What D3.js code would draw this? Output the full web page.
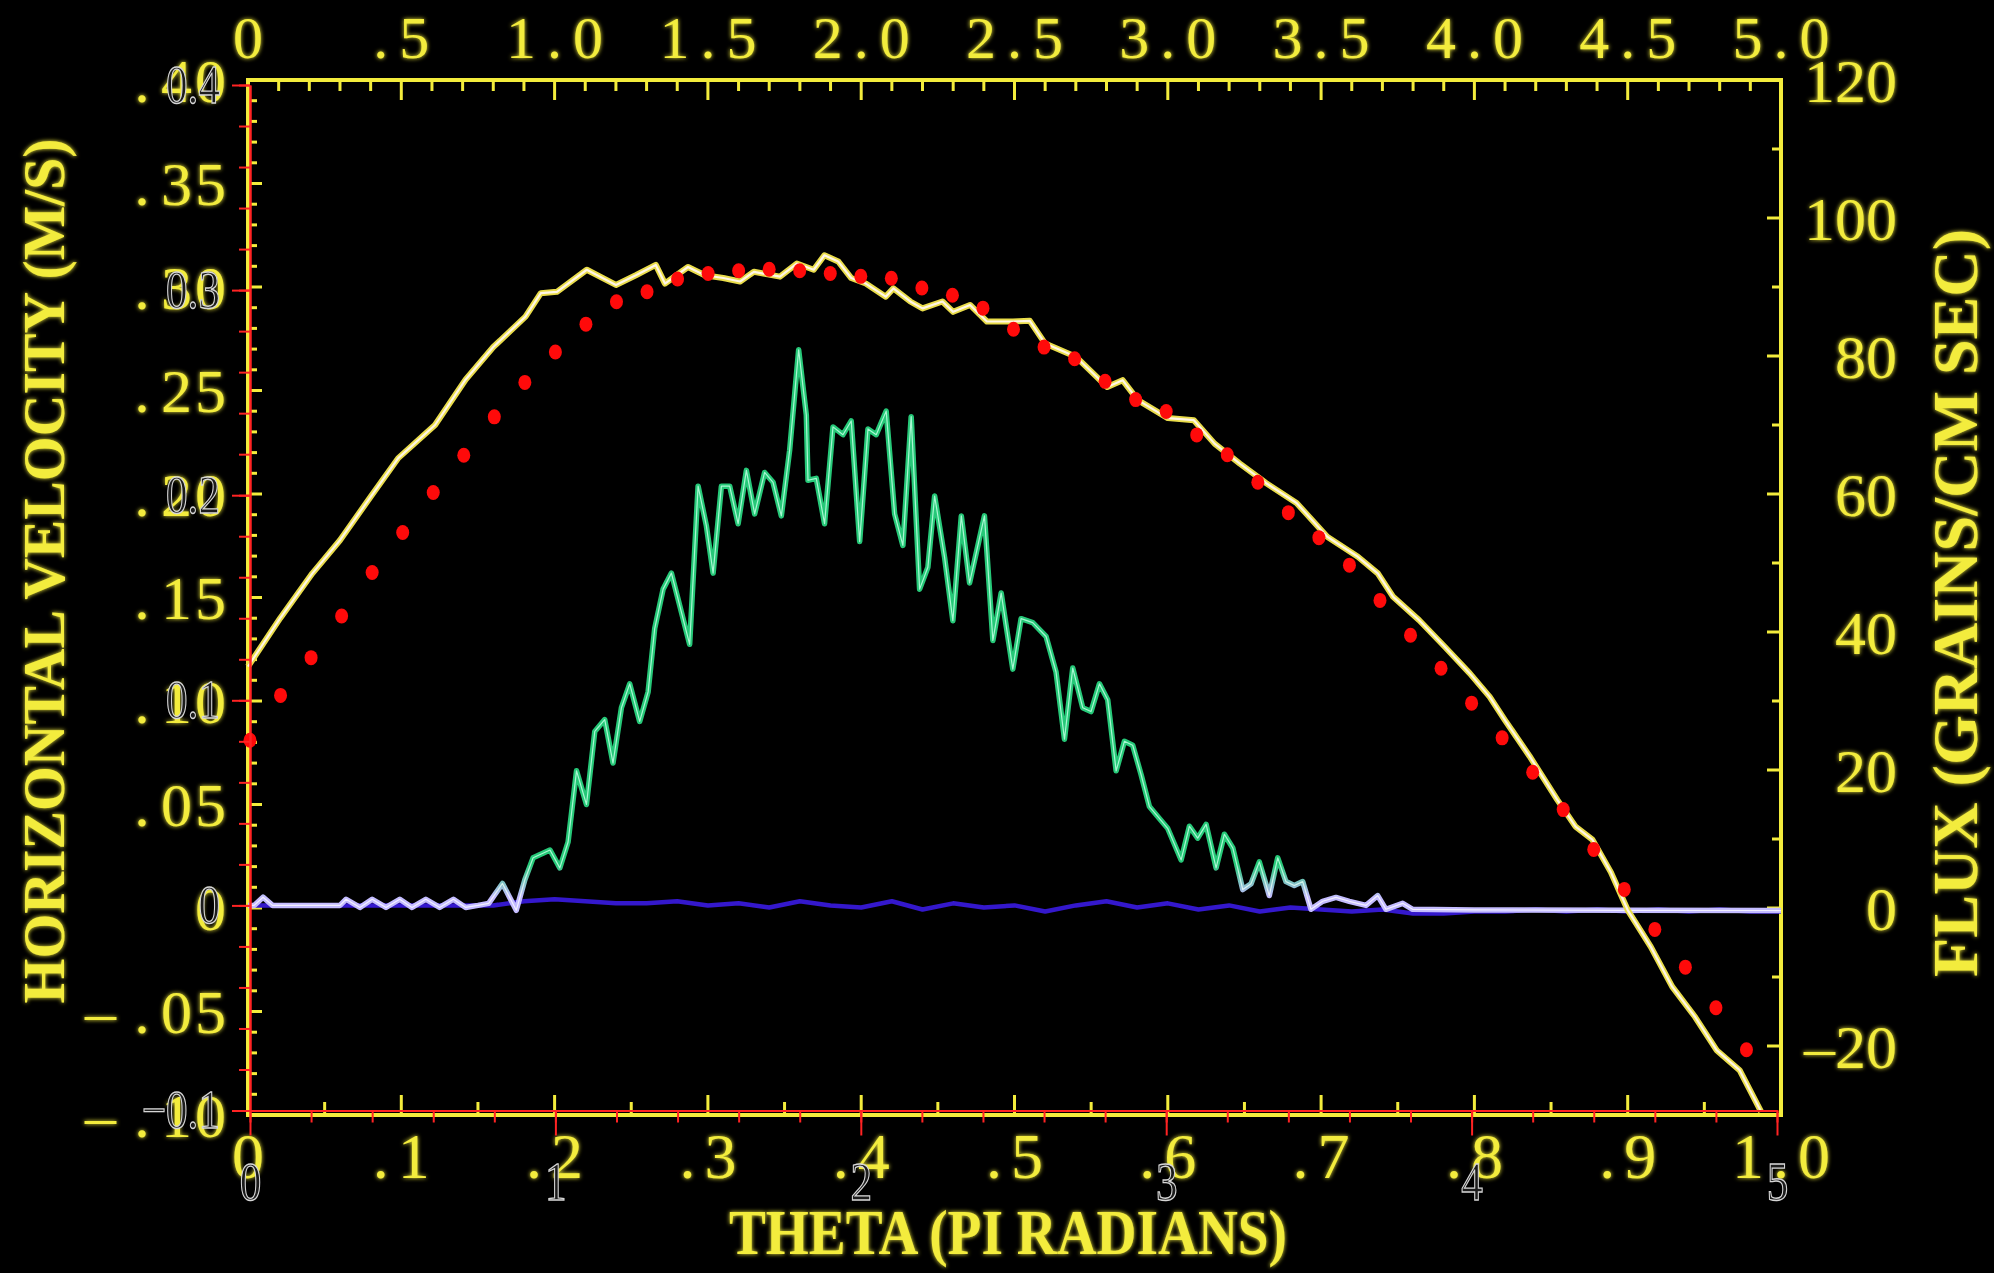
<!DOCTYPE html>
<html>
<head>
<meta charset="utf-8">
<script src="https://cdn.jsdelivr.net/npm/d3@7"></script>
<style>
  html, body { margin: 0; padding: 0; background: #000; }
  svg { display: block; }
</style>
</head>
<body>
<svg id="chart" width="1994" height="1273"></svg>
<script>
// ---------------- data ----------------
// bottom axis: theta in units of pi
const thetaTicks = [0, 0.1, 0.2, 0.3, 0.4, 0.5, 0.6, 0.7, 0.8, 0.9, 1.0];
const thetaTickLabels = ["0", ".1", ".2", ".3", ".4", ".5", ".6", ".7", ".8", ".9", "1.0"];
// top axis
const topTicks = [0, 0.5, 1.0, 1.5, 2.0, 2.5, 3.0, 3.5, 4.0, 4.5, 5.0];
const topTickLabels = ["0", ".5", "1.0", "1.5", "2.0", "2.5", "3.0", "3.5", "4.0", "4.5", "5.0"];
// left axis: horizontal velocity (m/s)
const velTicks = [0.40, 0.35, 0.30, 0.25, 0.20, 0.15, 0.10, 0.05, 0, -0.05, -0.10];
const velTickLabels = [".\u200A40", ".\u200A35", ".\u200A30", ".\u200A25", ".\u200A20", ".\u200A15",
  ".\u200A10", ".\u200A05", "0", "\u2013\u2009.\u200A05", "\u2013\u2009.\u200A10"];
// right axis: flux (grains / cm sec)
const fluxTicks = [120, 100, 80, 60, 40, 20, 0, -20];
const fluxTickLabels = ["120", "100", "80", "60", "40", "20", "0", "\u201320"];
// overlay axes (red)
const overlayXTicks = [0, 1, 2, 3, 4, 5];
const overlayYTicks = [-0.1, 0, 0.1, 0.2, 0.3, 0.4];

// measured sediment flux vs theta
const fluxTheta = [0.000, 0.021, 0.042, 0.060, 0.080, 0.098, 0.122, 0.142, 0.160, 0.181, 0.191, 0.2015,
  0.221, 0.240, 0.253, 0.266, 0.272, 0.287, 0.298, 0.310, 0.321, 0.330, 0.347, 0.358, 0.369, 0.376,
  0.385, 0.3935, 0.403, 0.416, 0.421, 0.432, 0.440, 0.453, 0.460, 0.471, 0.482, 0.499, 0.510, 0.520,
  0.540, 0.5605, 0.5705, 0.5805, 0.600, 0.617, 0.6305, 0.647, 0.664, 0.684, 0.704, 0.724, 0.737,
  0.747, 0.764, 0.7805, 0.797, 0.810, 0.820, 0.836, 0.854, 0.866, 0.877, 0.889, 0.900, 0.915, 0.929,
  0.944, 0.958, 0.973, 0.987];
const fluxValues = [35.0, 42.0, 48.5, 53.3, 59.6, 65.2, 70.0, 76.6, 81.3, 85.7, 89.1, 89.3,
  92.5, 90.3, 91.7, 93.2, 90.5, 92.9, 91.7, 91.3, 90.8, 92.2, 91.5, 93.4, 92.5, 94.6,
  93.7, 91.3, 90.5, 88.6, 89.8, 87.9, 86.9, 87.9, 86.4, 87.4, 85.0, 85.0, 85.1, 81.8,
  79.9, 75.5, 76.5, 73.6, 71.0, 70.7, 67.3, 64.4, 61.6, 58.7, 53.8, 50.9, 48.5,
  45.1, 41.7, 37.9, 34.0, 30.6, 27.2, 22.0, 15.7, 11.8, 9.9, 5.2, -0.3, -5.6, -11.4,
  -15.8, -20.6, -23.5, -29.5];

// horizontal velocity (green trace)
const uTheta = [0.000, 0.004, 0.0098, 0.016, 0.030, 0.060, 0.064, 0.073, 0.081, 0.090, 0.099, 0.107,
  0.116, 0.125, 0.134, 0.142, 0.150, 0.157, 0.166, 0.175, 0.1806, 0.186, 0.197, 0.2034, 0.2088,
  0.2143, 0.2208, 0.2262, 0.2327, 0.2381, 0.2436, 0.2490, 0.2555, 0.2610, 0.2653, 0.2708, 0.2762,
  0.2881, 0.2936, 0.2990, 0.3034, 0.3088, 0.3142, 0.3197, 0.3251, 0.3305, 0.3370, 0.3425, 0.3479,
  0.3533, 0.3592, 0.3642, 0.3653, 0.3707, 0.3761, 0.3816, 0.3881, 0.3935, 0.3990, 0.4044, 0.4098,
  0.4163, 0.4218, 0.4272, 0.4326, 0.4381, 0.4435, 0.4479, 0.4544, 0.4598, 0.4653, 0.4707, 0.4804,
  0.4859, 0.4913, 0.4989, 0.5043, 0.5119, 0.5206, 0.5271, 0.5326, 0.5380, 0.5445, 0.5499, 0.5554,
  0.5608, 0.5663, 0.5717, 0.5771, 0.5826, 0.5880, 0.5945, 0.5999, 0.6087, 0.6141, 0.6195, 0.6250,
  0.6315, 0.6369, 0.6424, 0.6489, 0.6543, 0.6597, 0.6662, 0.6717, 0.6771, 0.6825, 0.6880, 0.6934,
  0.7010, 0.7097, 0.7184, 0.7293, 0.7369, 0.7423, 0.7532, 0.7597, 0.800, 0.900, 1.000];
const uValues = [0.0000, 0.0000, 0.0040, 0.0000, 0.0000, 0.0000, 0.0030, -0.0010, 0.0030, -0.0010, 0.0030, -0.0010,
  0.0030, -0.0010, 0.0030, -0.0010, 0.0000, 0.0010, 0.0107, -0.0024, 0.0125, 0.0232, 0.0270, 0.0183, 0.0309,
  0.0656, 0.0492, 0.0848, 0.0906, 0.0694, 0.0964, 0.1080, 0.0897, 0.1041, 0.1350, 0.1542, 0.1620,
  0.1273, 0.2044, 0.1851, 0.1620, 0.2044, 0.2044, 0.1861, 0.2121, 0.1909, 0.2111, 0.2063, 0.1899,
  0.2218, 0.2709, 0.2391, 0.2073, 0.2082, 0.1861, 0.2333, 0.2295, 0.2362, 0.1774, 0.2323, 0.2295,
  0.2410, 0.1909, 0.1755, 0.2383, 0.1542, 0.1649, 0.1996, 0.1697, 0.1388, 0.1899, 0.1572, 0.1899,
  0.1292, 0.1523, 0.1152, 0.1398, 0.1379, 0.1311, 0.1138, 0.0810, 0.1157, 0.0964, 0.0945, 0.1080,
  0.1003, 0.0656, 0.0800, 0.0781, 0.0637, 0.0482, 0.0424, 0.0376, 0.0222, 0.0386, 0.0328, 0.0395,
  0.0183, 0.0347, 0.0280, 0.0077, 0.0106, 0.0212, 0.0048, 0.0232, 0.0116, 0.0097, 0.0116, -0.0019,
  0.0020, 0.0039, 0.0020, 0.0000, 0.0048, -0.0019, 0.0010, -0.0019, -0.0022, -0.0024, -0.0025];

// second velocity component (blue trace)
const wTheta = [0.00, 0.02, 0.04, 0.06, 0.08, 0.10, 0.12, 0.14, 0.16, 0.18, 0.20, 0.22, 0.24, 0.26,
  0.28, 0.30, 0.32, 0.34, 0.36, 0.38, 0.40, 0.42, 0.44, 0.46, 0.48, 0.50, 0.52, 0.54, 0.56, 0.58,
  0.60, 0.62, 0.64, 0.66, 0.68, 0.70, 0.72, 0.74, 0.76, 0.78, 0.80, 0.82, 0.84, 0.86, 0.88, 0.90,
  0.92, 0.94, 0.96, 0.98, 1.00];
const wValues = [0.000, 0.000, 0.000, 0.000, 0.000, 0.000, 0.000, 0.000, 0.000, 0.002, 0.003, 0.002,
  0.001, 0.001, 0.002, 0.000, 0.001, -0.001, 0.002, 0.000, -0.001, 0.002, -0.002, 0.001, -0.001,
  0.000, -0.003, 0.000, 0.002, -0.001, 0.001, -0.002, 0.000, -0.003, -0.001, -0.002, -0.003,
  -0.002, -0.004, -0.004, -0.003, -0.003, -0.002, -0.003, -0.002, -0.003, -0.002, -0.003, -0.002,
  -0.003, -0.003];

// model curve (red dots) on the overlay axes
const modelX = [0.0, 0.1, 0.2, 0.3, 0.4, 0.5, 0.6, 0.7, 0.8, 0.9, 1.0, 1.1, 1.2, 1.3, 1.4, 1.5, 1.6,
  1.7, 1.8, 1.9, 2.0, 2.1, 2.2, 2.3, 2.4, 2.5, 2.6, 2.7, 2.8, 2.9, 3.0, 3.1, 3.2, 3.3, 3.4, 3.5, 3.6,
  3.7, 3.8, 3.9, 4.0, 4.1, 4.2, 4.3, 4.4, 4.5, 4.6, 4.7, 4.8, 4.9];
const modelValues = [0.0805, 0.1024, 0.1208, 0.1411, 0.1623, 0.1818, 0.2013, 0.2195, 0.2382, 0.2550,
  0.2698, 0.2834, 0.2943, 0.2992, 0.3054, 0.3081, 0.3094, 0.3102, 0.3094, 0.3081, 0.3067, 0.3058,
  0.3010, 0.2975, 0.2912, 0.2809, 0.2722, 0.2665, 0.2555, 0.2466, 0.2408, 0.2294, 0.2197, 0.2063,
  0.1915, 0.1793, 0.1659, 0.1487, 0.1317, 0.1156, 0.0986, 0.0817, 0.0649, 0.0467, 0.0273, 0.0078,
  -0.0117, -0.0301, -0.0499, -0.0704];

// ---------------- layout ----------------
const YELLOW = "#f3ec3c";
const RED = "#ff2323";
const SERIF = "Liberation Serif, Times New Roman, serif";
const frame = { l: 248, r: 1781, t: 80, b: 1115 };

const svg = d3.select("#chart");
svg.append("rect").attr("width", 1994).attr("height", 1273).attr("fill", "#000");

const defs = svg.append("defs");
const glow = defs.append("filter").attr("id", "glow").attr("x", "-10%").attr("y", "-10%")
  .attr("width", "120%").attr("height", "120%");
glow.append("feGaussianBlur").attr("in", "SourceGraphic").attr("stdDeviation", 2).attr("result", "b");
const gm = glow.append("feMerge");
gm.append("feMergeNode").attr("in", "b");
gm.append("feMergeNode").attr("in", "SourceGraphic");

const thetaScale = d3.scaleLinear().domain([0, 1]).range([frame.l, frame.r]);
const topScale = d3.scaleLinear().domain([0, 5]).range([frame.l, frame.r]);
const fluxScale = d3.scaleLinear().domain([-30, 120]).range([frame.b, frame.t]);
const velScale = d3.scaleLinear().domain([-0.1, 0.4]).range([frame.b, frame.t]);
const ovX = d3.scaleLinear().domain([0, 5]).range([250, 1777]);
const ovY = d3.scaleLinear().domain([-0.1, 0.4]).range([1110.5, 85]);

// ---------------- yellow frame and ticks ----------------
const yAxes = svg.append("g").attr("stroke", YELLOW).attr("fill", "none");
yAxes.append("rect")
  .attr("x", frame.l).attr("y", frame.t)
  .attr("width", frame.r - frame.l).attr("height", frame.b - frame.t)
  .attr("stroke-width", 4);

function tickLines(values, fn) {
  yAxes.append("g").attr("stroke-width", 3)
    .selectAll("line").data(values).join("line")
    .each(function (d) {
      const c = fn(d);
      d3.select(this).attr("x1", c[0]).attr("y1", c[1]).attr("x2", c[2]).attr("y2", c[3]);
    });
}
// top: minor every 0.1, major every 0.5
tickLines(d3.range(0, 51).map(i => i / 10), d => {
  const x = topScale(d), len = (Math.round(d * 10) % 5 === 0) ? 20 : 11;
  return [x, frame.t, x, frame.t + len];
});
// bottom: minor every 0.05, major every 0.1
tickLines(d3.range(0, 21).map(i => i / 20), d => {
  const x = thetaScale(d), len = (Math.round(d * 20) % 2 === 0) ? 20 : 13;
  return [x, frame.b, x, frame.b - len];
});
// left: every 0.01, longer every 0.05
tickLines(d3.range(0, 51).map(i => -0.1 + i / 100), d => {
  const y = velScale(d), len = (Math.round(d * 100) % 5 === 0) ? 14 : 9;
  return [frame.l, y, frame.l + len, y];
});
// right: every 10 flux units
tickLines(d3.range(0, 16).map(i => -30 + i * 10), d => {
  const y = fluxScale(d), len = (d % 20 === 0) ? 14 : 9;
  return [frame.r, y, frame.r - len, y];
});

// ---------------- yellow labels ----------------
const yText = svg.append("g").attr("fill", YELLOW).attr("filter", "url(#glow)");

yText.selectAll("text.top").data(topTicks).join("text")
  .attr("class", "top")
  .attr("x", d => topScale(d)).attr("dx", 5.5).attr("y", 58)
  .attr("text-anchor", "middle")
  .attr("font-family", SERIF).attr("font-size", 60)
  .attr("letter-spacing", 11)
  .text((d, i) => topTickLabels[i]);

yText.selectAll("text.bot").data(thetaTicks).join("text")
  .attr("class", "bot")
  .attr("x", d => thetaScale(d)).attr("dx", 4.5).attr("y", 1178)
  .attr("text-anchor", "middle")
  .attr("font-family", SERIF).attr("font-size", 64)
  .attr("letter-spacing", 9)
  .text((d, i) => thetaTickLabels[i]);

yText.selectAll("text.left").data(velTicks).join("text")
  .attr("class", "left")
  .attr("x", 229).attr("y", d => velScale(d)).attr("dy", "0.35em")
  .attr("text-anchor", "end")
  .attr("font-family", SERIF).attr("font-size", 62)
  .attr("letter-spacing", 3)
  .text((d, i) => velTickLabels[i]);

yText.selectAll("text.right").data(fluxTicks).join("text")
  .attr("class", "right")
  .attr("x", 1897).attr("y", d => fluxScale(d)).attr("dy", "0.35em")
  .attr("text-anchor", "end")
  .attr("font-family", SERIF).attr("font-size", 62)
  .text((d, i) => fluxTickLabels[i]);

yText.append("text")
  .attr("transform", "translate(64,571) rotate(-90)")
  .attr("text-anchor", "middle")
  .attr("font-family", SERIF).attr("font-weight", "bold").attr("font-size", 60)
  .attr("textLength", 865).attr("lengthAdjust", "spacingAndGlyphs")
  .text("HORIZONTAL VELOCITY (M/S)");

yText.append("text")
  .attr("transform", "translate(1977,603) rotate(-90)")
  .attr("text-anchor", "middle")
  .attr("font-family", SERIF).attr("font-weight", "bold").attr("font-size", 64)
  .attr("textLength", 748).attr("lengthAdjust", "spacingAndGlyphs")
  .text("FLUX (GRAINS/CM SEC)");

yText.append("text")
  .attr("x", 1008).attr("y", 1254)
  .attr("text-anchor", "middle")
  .attr("font-family", SERIF).attr("font-weight", "bold").attr("font-size", 64)
  .attr("textLength", 558).attr("lengthAdjust", "spacingAndGlyphs")
  .text("THETA (PI RADIANS)");

// ---------------- curves ----------------
const plot = svg.append("g");

// blue velocity component
const wLine = d3.line().x((d, i) => thetaScale(wTheta[i])).y(d => ovY(d));
plot.append("path").datum(wValues).attr("d", wLine)
  .attr("fill", "none").attr("stroke", "#3418cc").attr("stroke-width", 4.5)
  .attr("stroke-linejoin", "round");

// horizontal velocity: lavender near zero, green above
const uGrad = defs.append("linearGradient").attr("id", "uGrad")
  .attr("gradientUnits", "userSpaceOnUse")
  .attr("x1", 0).attr("x2", 0).attr("y1", ovY(0.004)).attr("y2", ovY(0.02));
uGrad.append("stop").attr("offset", 0).attr("stop-color", "#c4bcff");
uGrad.append("stop").attr("offset", 1).attr("stop-color", "#26c878");
const uCore = defs.append("linearGradient").attr("id", "uCore")
  .attr("gradientUnits", "userSpaceOnUse")
  .attr("x1", 0).attr("x2", 0).attr("y1", ovY(0.004)).attr("y2", ovY(0.02));
uCore.append("stop").attr("offset", 0).attr("stop-color", "#f2f0ff");
uCore.append("stop").attr("offset", 1).attr("stop-color", "#a8f8d2");

const uLine = d3.line().x((d, i) => thetaScale(uTheta[i])).y(d => ovY(d));
plot.append("path").datum(uValues).attr("d", uLine)
  .attr("fill", "none").attr("stroke", "url(#uGrad)").attr("stroke-width", 5.5)
  .attr("stroke-linejoin", "round");
plot.append("path").datum(uValues).attr("d", uLine)
  .attr("fill", "none").attr("stroke", "url(#uCore)").attr("stroke-width", 1.2)
  .attr("stroke-linejoin", "round");

// flux
const fLine = d3.line().x((d, i) => thetaScale(fluxTheta[i])).y(d => fluxScale(d));
plot.append("path").datum(fluxValues).attr("d", fLine)
  .attr("fill", "none").attr("stroke", "#e9dc4a").attr("stroke-width", 6)
  .attr("stroke-linejoin", "round");
plot.append("path").datum(fluxValues).attr("d", fLine)
  .attr("fill", "none").attr("stroke", "#fff6e6").attr("stroke-width", 2.2)
  .attr("stroke-linejoin", "round");

// model (red dots)
plot.append("g").selectAll("ellipse").data(modelValues).join("ellipse")
  .attr("cx", (d, i) => ovX(modelX[i])).attr("cy", d => ovY(d))
  .attr("rx", 6.5).attr("ry", 7.5).attr("fill", "#ff0a0a");

// ---------------- red overlay axes ----------------
const grayStyle = sel => sel
  .attr("font-family", SERIF)
  .attr("font-size", 54)
  .attr("fill", "#1c1c1c").attr("stroke", "#d6d6d6").attr("stroke-width", 1.3);

function condense(sel, f) {
  sel.each(function () {
    const w = this.getComputedTextLength();
    this.setAttribute("textLength", w * f);
    this.setAttribute("lengthAdjust", "spacingAndGlyphs");
  });
}

// left minor ticks
const leftMinor = svg.append("g").attr("transform", `translate(${ovX(0)},0)`)
  .call(d3.axisLeft(ovY).tickValues(d3.range(0, 26).map(i => -0.1 + i * 0.02))
    .tickSize(11).tickSizeOuter(0).tickFormat(""));
// left major ticks + labels
const leftMajor = svg.append("g").attr("transform", `translate(${ovX(0)},0)`)
  .call(d3.axisLeft(ovY).tickValues(overlayYTicks).tickSize(18).tickSizeOuter(0).tickPadding(12)
    .tickFormat(d => d === 0 ? "0" : d3.format(".1f")(d)));
// bottom minor ticks
const botMinor = svg.append("g").attr("transform", `translate(0,${ovY(-0.1)})`)
  .call(d3.axisBottom(ovX).tickValues(d3.range(0, 26).map(i => i * 0.2))
    .tickSize(12).tickSizeOuter(0).tickFormat(""));
// bottom major ticks + labels
const botMajor = svg.append("g").attr("transform", `translate(0,${ovY(-0.1)})`)
  .call(d3.axisBottom(ovX).tickValues(overlayXTicks).tickSize(25).tickSizeOuter(0).tickPadding(26)
    .tickFormat(d3.format("d")));

[leftMinor, leftMajor, botMinor, botMajor].forEach(g => {
  g.select(".domain").attr("stroke", RED).attr("stroke-width", 2);
  g.selectAll(".tick line").attr("stroke", RED).attr("stroke-width", 2);
  g.attr("font-family", null).attr("font-size", null);
});
leftMajor.selectAll(".tick text").call(grayStyle).call(condense, 0.8);
botMajor.selectAll(".tick text").call(grayStyle).call(condense, 0.8);
</script>
</body>
</html>
